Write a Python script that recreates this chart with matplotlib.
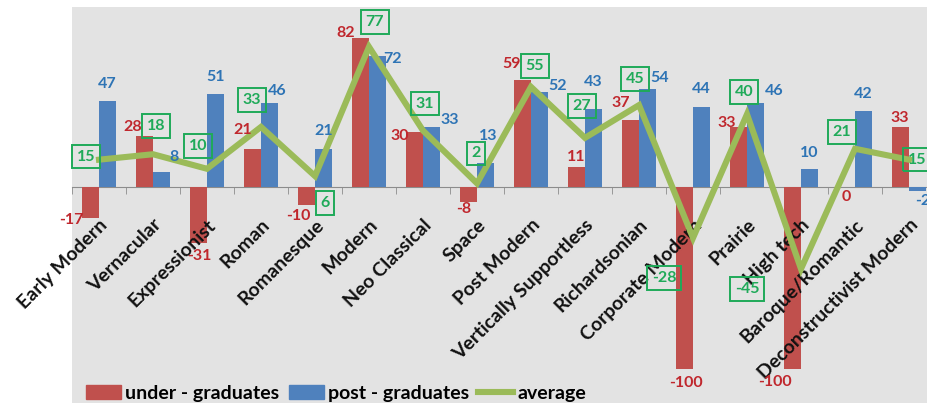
import matplotlib
matplotlib.use("Agg")
import matplotlib.pyplot as plt
from matplotlib.patches import Patch
from matplotlib.lines import Line2D
import numpy as np

plt.rcParams['font.family'] = ['Lato', 'DejaVu Sans']
plt.rcParams['font.weight'] = 'bold'

# survey scores per architectural style
styles = ['Early Modern', 'Vernacular', 'Expressionist', 'Roman', 'Romanesque',
          'Modern', 'Neo Classical', 'Space', 'Post Modern', 'Vertically Supportless',
          'Richardsonian', 'Corporate Modern', 'Prairie', 'High tech',
          'Baroque/Romantic', 'Deconstructivist Modern']
under_grad = [-17, 28, -31, 21, -10, 82, 30, -8, 59, 11, 37, -100, 33, -100, 0, 33]
post_grad = [47, 8, 51, 46, 21, 72, 33, 13, 52, 43, 54, 44, 46, 10, 42, -2]
average = [15, 18, 10, 33, 6, 77, 31, 2, 55, 27, 45, -28, 40, -45, 21, 15]

# label nudges in pixels (dx, dy) from the end of each bar / line point
red_off = [(-19, -2), (-12, 9), (1, -13), (-10, 19), (-8, -11), (-15, 5), (-15, -4),
           (-5, -7), (-11, 16), (0, 10), (-10, 17), (1, -14), (-12, 4), (-18, -13),
           (0, -10), (-1, 9)]
blue_off = [(0, 17), (13, 15), (0, 17), (8, 12), (0, 18), (15, -3), (18, 7), (3, 27),
            (18, 6), (0, 27), (12, 11), (0, 18), (19, 12), (0, 16), (0, 17), (5, -10)]
avg_off = [(-13, 3), (3, 28), (-9, 23), (-9, 27), (10, -27), (6, 25), (2, 27), (-1, 30),
           (4, 21), (-3, 32), (-4, 26), (-29, -40), (-3, 22), (-54, -20), (-13, 17), (8, 0)]

RED, BLUE, GREEN = '#c0504d', '#4f81bd', '#9bbb59'
RED_TXT, BLUE_TXT, GREEN_TXT = '#c0272d', '#2e74b5', '#1faa59'

W, H = 927, 403
fig = plt.figure(figsize=(W / 100, H / 100), dpi=100)
# plot area runs off the right edge of the figure
ax = fig.add_axes([72 / W, 0, 864 / W, 396 / H])
ax.set_facecolor('#e3e3e3')

x = np.arange(len(styles))
bw = 0.31
ax.bar(x - bw / 2, under_grad, bw, color=RED, zorder=2)
ax.bar(x + bw / 2, post_grad, bw, color=BLUE, zorder=2)
ax.plot(x, average, color=GREEN, lw=4.4, zorder=3, solid_joinstyle='miter')

ax.set_xlim(-0.5, len(styles) - 0.5)
ax.set_ylim(-118.7, 98.9)

for i in range(len(styles)):
    v = under_grad[i]
    ax.annotate(str(v), (x[i] - bw / 2, v), xytext=red_off[i], textcoords='offset pixels',
                ha='center', va='center', color=RED_TXT, fontsize=11.5, zorder=4)
    v = post_grad[i]
    ax.annotate(str(v), (x[i] + bw / 2, v), xytext=blue_off[i], textcoords='offset pixels',
                ha='center', va='center', color=BLUE_TXT, fontsize=11.5, zorder=4)
    v = average[i]
    ax.annotate(str(v), (x[i], v), xytext=avg_off[i], textcoords='offset pixels',
                ha='center', va='center', color=GREEN_TXT, fontsize=11.5, zorder=5,
                bbox=dict(boxstyle='square,pad=0.3', fc='none', ec=GREEN_TXT, lw=1.4))

# axis line at zero with small ticks between categories, drawn over the bars
for s in ['top', 'right', 'left']:
    ax.spines[s].set_visible(False)
ax.spines['bottom'].set_position(('data', 0))
ax.spines['bottom'].set_color('#8c8c8c')
ax.spines['bottom'].set_zorder(1)
ax.xaxis.set_zorder(2.5)
ax.set_yticks([])
ax.set_xticks(x)
ax.set_xticklabels(styles, rotation=45, ha='right', rotation_mode='anchor',
                   fontsize=14, color='#111111')
ax.tick_params(axis='x', which='major', length=0, pad=21)
ax.set_xticks(np.arange(len(styles) + 1) - 0.5, minor=True)
ax.tick_params(axis='x', which='minor', length=5, color='#8c8c8c')

handles = [Patch(color=RED), Patch(color=BLUE), Line2D([], [], color=GREEN, lw=4.4)]
fig.legend(handles, ['under - graduates', 'post - graduates', 'average'],
           loc='lower left', bbox_to_anchor=(86 / W, 1 / H), ncol=3, frameon=False,
           fontsize=14, handlelength=1.8, handleheight=0.7, handletextpad=0.2,
           columnspacing=0.5, borderpad=0, borderaxespad=0)

fig.savefig('out.png', dpi=100)
